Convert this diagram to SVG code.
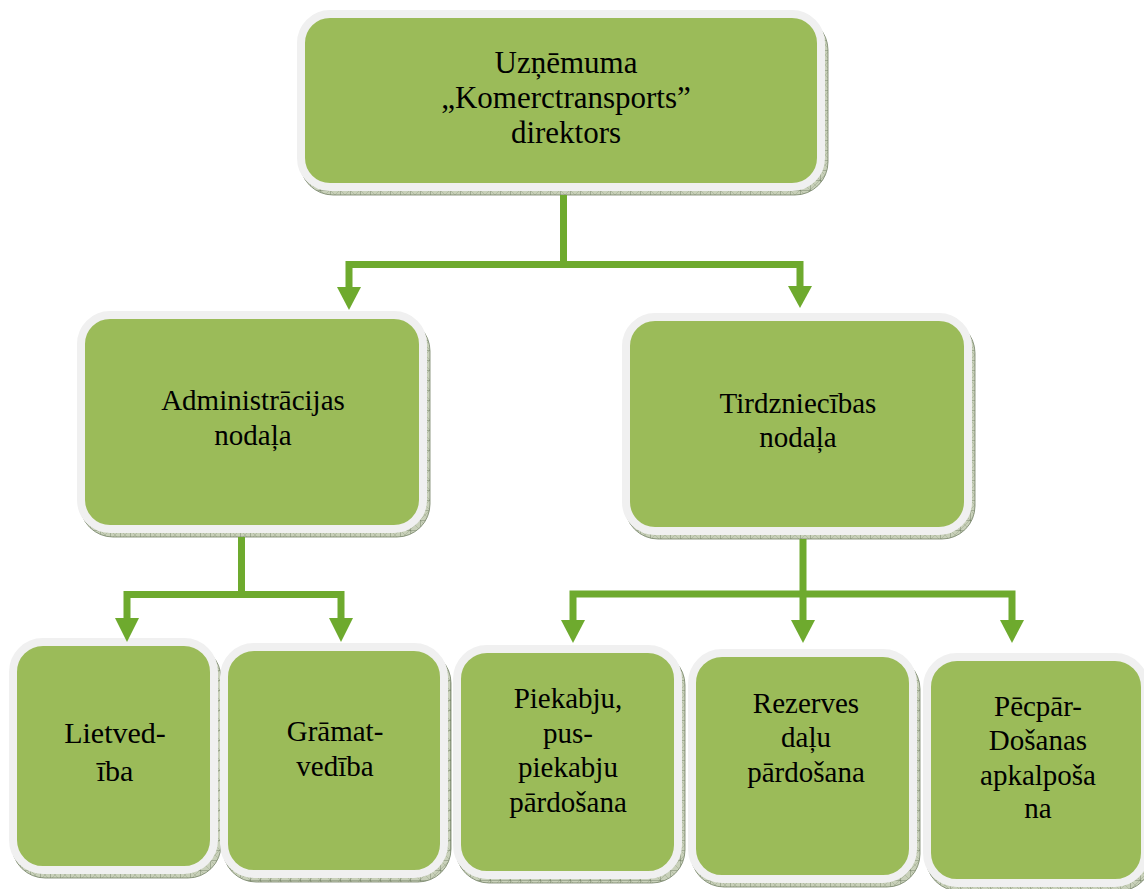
<svg xmlns="http://www.w3.org/2000/svg" width="1144" height="889" viewBox="0 0 1144 889">
<defs>
<pattern id="hatch" width="10" height="10" patternUnits="userSpaceOnUse">
<rect width="10" height="10" fill="#c8d0b9"/>
<path d="M0,0 L10,10 M10,0 L0,10" stroke="#a3ae94" stroke-width="0.6"/>
<path d="M0,0 V10 M0,0 H10" stroke="#66755a" stroke-width="0.8"/>
</pattern>
</defs>
<style>
.shadow{fill:url(#hatch);stroke:#748166;stroke-width:0.8}
.box{fill:#9bbb59;stroke:#f0f0f0;stroke-width:8}
.t{font-family:"Liberation Serif","Times New Roman",serif;fill:#000;text-anchor:middle}
.conn{fill:none;stroke:#6eaa2e;stroke-width:7;stroke-linejoin:miter}
.head{fill:#6eaa2e}
</style>
<rect width="1144" height="889" fill="#fff"/>

<g id="node-director">
<rect class="shadow" x="300" y="17" width="528" height="178" rx="33"/>
<rect class="box" x="301" y="14" width="520" height="173" rx="29"/>
<text class="t" font-size="31"><tspan x="566" y="73">Uzņēmuma</tspan><tspan x="566" y="108">„Komerctransports”</tspan><tspan x="566" y="143">direktors</tspan></text>
</g>

<g id="node-admin">
<rect class="shadow" x="80" y="318" width="350" height="219" rx="33"/>
<rect class="box" x="81" y="315" width="342" height="214" rx="29"/>
<text class="t" font-size="29"><tspan x="253" y="410">Administrācijas</tspan><tspan x="253" y="445">nodaļa</tspan></text>
</g>

<g id="node-trade">
<rect class="shadow" x="625" y="320" width="350" height="219" rx="33"/>
<rect class="box" x="626" y="317" width="342" height="214" rx="29"/>
<text class="t" font-size="29"><tspan x="798" y="413">Tirdzniecības</tspan><tspan x="798" y="447">nodaļa</tspan></text>
</g>

<g id="node-lietvediba">
<rect class="shadow" x="12" y="645" width="209" height="233" rx="33"/>
<rect class="box" x="13" y="642" width="201" height="228" rx="30"/>
<text class="t" font-size="30"><tspan x="115" y="743">Lietved-</tspan><tspan x="115" y="781">ība</tspan></text>
</g>

<g id="node-gramatvediba">
<rect class="shadow" x="223" y="650" width="228" height="232" rx="33"/>
<rect class="box" x="224" y="647" width="220" height="227" rx="30"/>
<text class="t" font-size="29"><tspan x="335" y="741">Grāmat-</tspan><tspan x="335" y="776">vedība</tspan></text>
</g>

<g id="node-piekabju">
<rect class="shadow" x="456" y="652" width="229" height="231" rx="33"/>
<rect class="box" x="457" y="649" width="221" height="226" rx="30"/>
<text class="t" font-size="29"><tspan x="568" y="708">Piekabju,</tspan><tspan x="568" y="743">pus-</tspan><tspan x="568" y="777">piekabju</tspan><tspan x="568" y="812">pārdošana</tspan></text>
</g>

<g id="node-rezerves">
<rect class="shadow" x="691" y="656" width="229" height="231" rx="33"/>
<rect class="box" x="692" y="653" width="221" height="226" rx="30"/>
<text class="t" font-size="29"><tspan x="806" y="713">Rezerves</tspan><tspan x="806" y="747">daļu</tspan><tspan x="806" y="782">pārdošana</tspan></text>
</g>

<g id="node-pecpardosana">
<rect class="shadow" x="926" y="660" width="226" height="231" rx="33"/>
<rect class="box" x="927" y="657" width="218" height="226" rx="30"/>
<text class="t" font-size="29"><tspan x="1038" y="716">Pēcpār-</tspan><tspan x="1038" y="750">Došanas</tspan><tspan x="1038" y="785">apkalpoša</tspan><tspan x="1038" y="818">na</tspan></text>
</g>

<g id="connectors">
<path class="conn" d="M563.5,195 V264.5 M349,289 V264.5 H800 V289"/>
<polygon class="head" points="337,287 361,287 349,310"/>
<polygon class="head" points="788,286 812,286 800,308"/>
<path class="conn" d="M241.5,537 V594.5 M127,620 V594.5 H341 V620"/>
<polygon class="head" points="115,618 139,618 127,642"/>
<polygon class="head" points="329,618 353,618 341,642"/>
<path class="conn" d="M803,539 V621 M573,621 V594 H1012 V621"/>
<polygon class="head" points="561,620 585,620 573,643"/>
<polygon class="head" points="791,620 815,620 803,643"/>
<polygon class="head" points="1000,620 1024,620 1012,643"/>
</g>
</svg>
